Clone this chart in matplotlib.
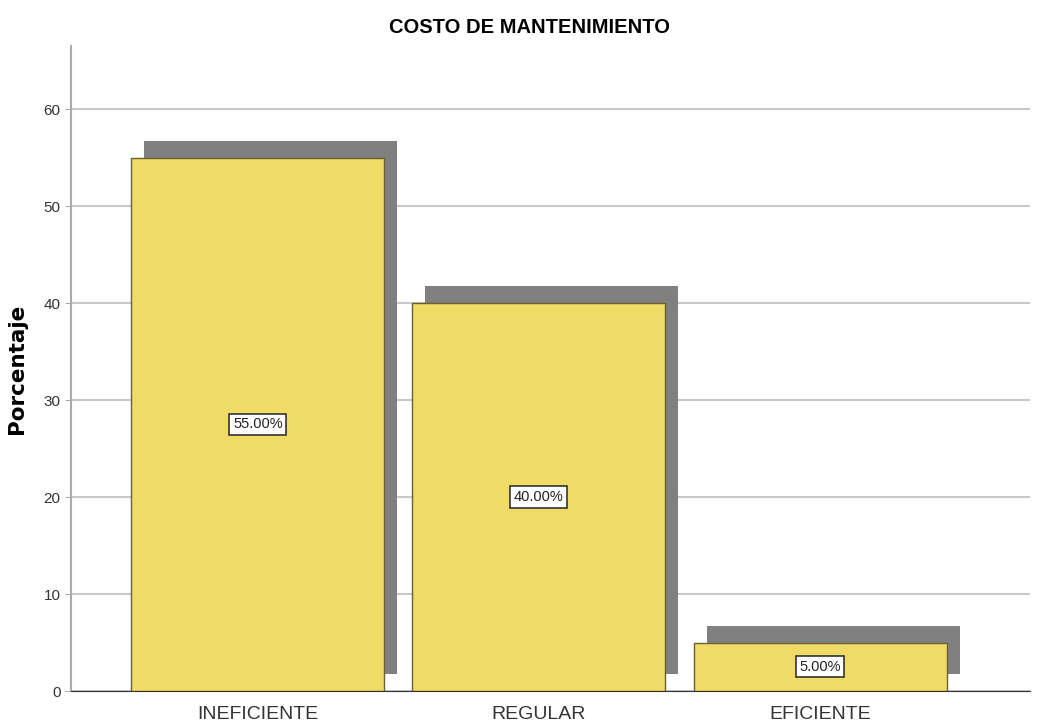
import matplotlib.pyplot as plt
import matplotlib.transforms as mtransforms

# datos
categorias = ['INEFICIENTE', 'REGULAR', 'EFICIENTE']
porcentajes = [55.0, 40.0, 5.0]
etiquetas = ['55.00%', '40.00%', '5.00%']
yticks = [0, 10, 20, 30, 40, 50, 60]

plt.rcParams['font.family'] = ['Liberation Sans', 'DejaVu Sans']

fig = plt.figure(figsize=(10.42, 7.28), dpi=100)
ax = fig.add_axes([0.0681, 0.0508, 0.9204, 0.886])

x = range(len(categorias))

# sombra desplazada
sombra = ax.transData + mtransforms.ScaledTranslation(0.13, 0.17, fig.dpi_scale_trans)
ax.bar(x, porcentajes, width=0.9, color='#808080', transform=sombra, zorder=2)
ax.bar(x, porcentajes, width=0.9, color='#F0DB66', edgecolor='#6b6030', lw=1, zorder=3)

for i, v in enumerate(porcentajes):
    ax.text(i, v / 2, etiquetas[i], ha='center', va='center', fontsize=10.5, color='#222222',
            zorder=4, bbox=dict(boxstyle='square,pad=0.25', fc='white', ec='#333333', lw=1.2))

ax.set_xlim(-0.665, 2.747)
ax.set_ylim(0, 66.5)
ax.set_yticks(yticks)
ax.set_xticks(list(x))
ax.set_xticklabels(categorias, fontsize=14, color='#333333')
ax.tick_params(axis='x', length=0, pad=11)
ax.tick_params(axis='y', labelsize=11, colors='#333333', length=4, color='#aaaaaa')
ax.yaxis.grid(True, color='#c8c8c8', lw=1.5, zorder=0)
ax.set_axisbelow(True)

for s in ['top', 'right']:
    ax.spines[s].set_visible(False)
ax.spines['left'].set_color('#aaaaaa')
ax.spines['left'].set_linewidth(1.5)
ax.spines['bottom'].set_color('#333333')

ax.set_ylabel('Porcentaje', fontsize=15.5, fontweight='bold', labelpad=12,
              family=['DejaVu Sans'])
fig.text(0.508, 0.962, 'COSTO DE MANTENIMIENTO', ha='center', va='center',
         fontsize=14.5, fontweight='bold')

plt.savefig('out.png', dpi=100)
